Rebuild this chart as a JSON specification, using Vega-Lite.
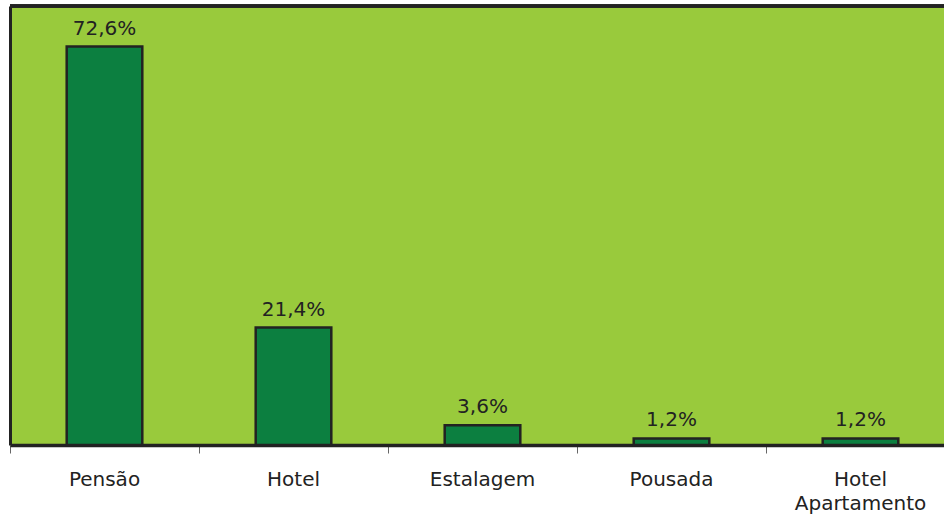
{
  "$schema": "https://vega.github.io/schema/vega-lite/v6.json",
  "width": 934,
  "height": 439,
  "autosize": "none",
  "padding": {"left": 10, "top": 6, "right": 0, "bottom": 74},
  "background": "white",
  "config": {
    "view": {"fill": "#99CA3C", "stroke": null},
    "font": "DejaVu Sans"
  },
  "data": {
    "values": [
      {"tipo": "Pensão", "pct": 72.6, "rotulo": "72,6%"},
      {"tipo": "Hotel", "pct": 21.4, "rotulo": "21,4%"},
      {"tipo": "Estalagem", "pct": 3.6, "rotulo": "3,6%"},
      {"tipo": "Pousada", "pct": 1.2, "rotulo": "1,2%"},
      {"tipo": "Hotel Apartamento", "pct": 1.2, "rotulo": "1,2%"}
    ]
  },
  "encoding": {
    "x": {
      "field": "tipo",
      "type": "nominal",
      "sort": null,
      "scale": {"range": [0, 945], "paddingInner": 0, "paddingOuter": 0},
      "axis": {
        "title": null,
        "bandPosition": 0,
        "labelAngle": 0,
        "labelFont": "DejaVu Sans",
        "labelFontSize": 20,
        "labelColor": "#222222",
        "labelPadding": 16,
        "labelLineHeight": 24,
        "labelExpr": "datum.label == 'Hotel Apartamento' ? ['Hotel', 'Apartamento'] : datum.label",
        "tickSize": 8,
        "tickColor": "#666666",
        "tickWidth": 1,
        "domainColor": "#222222",
        "domainWidth": 3.5,
        "grid": false
      }
    },
    "y": {
      "field": "pct",
      "type": "quantitative",
      "scale": {"domain": [0, 80], "nice": false},
      "axis": {
        "title": null,
        "labels": false,
        "ticks": false,
        "grid": false,
        "domainColor": "#222222",
        "domainWidth": 3
      }
    }
  },
  "layer": [
    {
      "mark": {"type": "bar", "width": {"band": 0.4}, "fill": "#0C7F40", "stroke": "#222222", "strokeWidth": 2.5}
    },
    {
      "mark": {"type": "text", "baseline": "alphabetic", "dy": -12, "fontSize": 20, "font": "DejaVu Sans", "color": "#222222"},
      "encoding": {"text": {"field": "rotulo"}}
    },
    {
      "mark": {"type": "rule", "color": "#222222", "strokeWidth": 3},
      "encoding": {"y": {"datum": 80}, "x": null}
    }
  ]
}
